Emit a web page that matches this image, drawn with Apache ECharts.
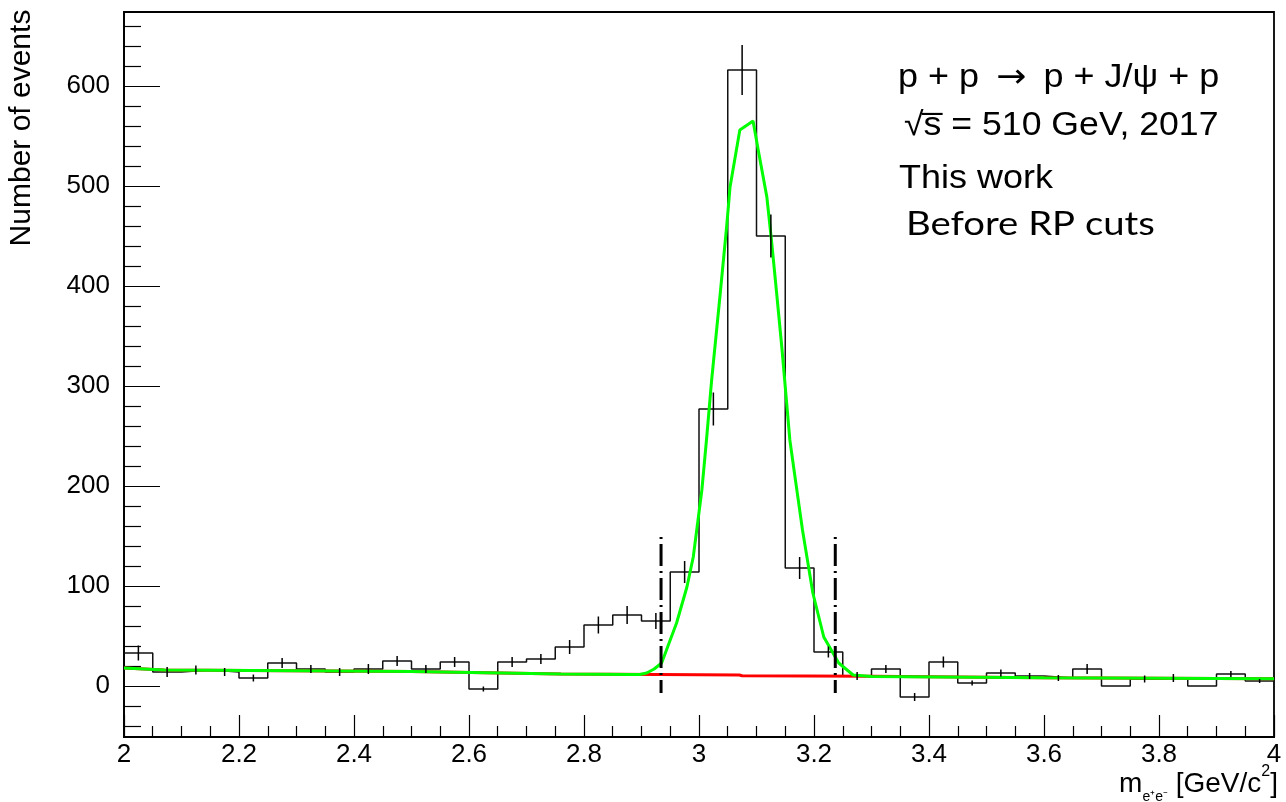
<!DOCTYPE html>
<html><head><meta charset="utf-8">
<script src="https://cdn.jsdelivr.net/npm/echarts@6/dist/echarts.min.js"></script>
<style>html,body{margin:0;padding:0;background:#fff;} #c{width:1286px;height:802px;}</style>
</head><body><div id="c"></div>
<script>
// ---- data ----
const binStart = 2.0;
const binWidth = 0.05;
const counts = [33, 14, 16, 14, 8, 23, 17, 14, 17, 25,
                17, 24, -3, 24, 27, 39, 61, 71, 65, 114,
                277, 616, 450, 118, 34, 10, 17, -11, 24, 3,
                13, 10, 8, 17, 0, 7, 8, 0, 12, 5];
const errors = [7.5, 5, 4.5, 4, 3.5, 5, 4, 4, 5, 5,
                4, 5, 2.5, 5, 5, 7, 8.5, 9, 8, 11,
                16.5, 25, 21.5, 11, 5.5, 4, 4, 4, 5.5, 2.5,
                3.5, 3, 3, 5, 0, 3.5, 4, 0, 3, 2];
const fitTotal = [[2.000,18],[2.070,16],[2.300,15.3],[2.500,14.5],[2.760,12],[2.880,11.5],[2.897,11.5],
  [2.909,13],[2.922,17],[2.935,23],[2.961,63],[2.979,99],[2.990,129],[3.005,196],[3.013,246],
  [3.022,306],[3.037,393],[3.048,459],[3.054,499],[3.071,556],[3.094,565],[3.103,536],[3.118,489],
  [3.126,446],[3.135,393],[3.144,339],[3.152,286],[3.158,246],[3.166,213],[3.180,156],[3.198,93],
  [3.217,49],[3.243,23],[3.268,11],[3.300,9.5],[3.600,8.3],[4.000,7.2]];
const fitBackground = [[2.000,18],[2.070,16],[2.500,14.5],[2.760,12],[2.930,11.5],[3.070,11],
  [3.075,10.2],[3.300,9.7],[3.600,8.3],[4.000,7.2]];
const cutPositions = [2.934, 3.237];
const cutRange = [-7, 149];
const yTitle = 'Number of events';
const xTitle = '{m|m}{s|e\u207ae\u207b} [GeV/c{p|2}]';
const annotations = ['{a|p + p\u2009 }{r|\u2192}{a|\u2009 p + J/\u03c8 + p}', '\u221as\u0305 = 510 GeV, 2017', 'This work', 'Before RP cuts'];

// ---- build series data ----
const stepData = counts.map((v, i) => [binStart + i * binWidth, v]);
stepData.push([binStart + counts.length * binWidth, counts[counts.length - 1]]);
const errData = counts.map((v, i) => [binStart + (i + 0.5) * binWidth, v, errors[i]]);
const cutData = cutPositions.map(x => [x, cutRange[0], cutRange[1]]);

const FONT = '"Liberation Sans", Arial, Helvetica, sans-serif';
const chart = echarts.init(document.getElementById('c'), null, {renderer: 'canvas'});
const option = {
  animation: false,
  backgroundColor: '#fff',
  grid: {left: 124, right: 12, top: 12, bottom: 65, show: true, borderColor: '#000', borderWidth: 1.8, backgroundColor: 'transparent'},
  xAxis: {
    type: 'value', min: 2, max: 4, interval: 0.2,
    axisLine: {show: true, onZero: false, lineStyle: {color: '#000', width: 1.8}},
    axisTick: {show: true, inside: true, length: 22, lineStyle: {color: '#000', width: 1.2}},
    minorTick: {show: true, splitNumber: 4, length: 11, lineStyle: {color: '#000', width: 1.2}},
    axisLabel: {color: '#000', fontSize: 26, fontFamily: FONT, margin: 5},
    splitLine: {show: false}, minorSplitLine: {show: false}
  },
  yAxis: {
    type: 'value', min: -51, max: 674, minInterval: 100, maxInterval: 100, splitNumber: 7,
    axisLine: {show: true, onZero: false, lineStyle: {color: '#000', width: 1.8}},
    axisTick: {show: true, inside: true, length: 36, lineStyle: {color: '#000', width: 1.2}},
    minorTick: {show: true, splitNumber: 5, length: 17, lineStyle: {color: '#000', width: 1.2}},
    axisLabel: {color: '#000', fontSize: 26, fontFamily: FONT, margin: 14, showMinLabel: false, showMaxLabel: false},
    splitLine: {show: false}, minorSplitLine: {show: false}
  },
  series: [
    {type: 'line', name: 'hist', data: stepData, step: 'end', symbol: 'none', z: 2,
     lineStyle: {color: '#111', width: 1.5}, silent: true},
    {type: 'line', name: 'bkg', data: fitBackground, symbol: 'none', z: 3,
     lineStyle: {color: '#ff0000', width: 3}, silent: true},
    {type: 'line', name: 'fit', data: fitTotal, symbol: 'none', z: 4,
     lineStyle: {color: '#00ff00', width: 3}, silent: true},
    {type: 'custom', name: 'err', data: errData, z: 5, silent: true,
     encode: {x: 0, y: 1},
     renderItem: function (params, api) {
       const x = api.value(0), v = api.value(1), e = api.value(2);
       if (!(e > 0)) return null;
       const p1 = api.coord([x, v - e]), p2 = api.coord([x, v + e]);
       return {type: 'line', shape: {x1: p1[0], y1: p1[1], x2: p2[0], y2: p2[1]},
               style: {stroke: '#000', lineWidth: 1.5}};
     }},
    {type: 'custom', name: 'cuts', data: cutData, z: 6, silent: true,
     encode: {x: 0, y: [1, 2]},
     renderItem: function (params, api) {
       const x = api.value(0);
       const pTop = api.coord([x, api.value(2)]), pBot = api.coord([x, api.value(1)]);
       return {type: 'line', shape: {x1: pTop[0], y1: pTop[1], x2: pBot[0], y2: pBot[1]},
               style: {stroke: '#000', lineWidth: 3, lineDash: [2, 5, 22, 5]}};
     }}
  ],
  graphic: [
    {type: 'text', x: 22, y: 128, rotation: Math.PI / 2,
     style: {text: yTitle, font: '30px ' + FONT, fill: '#000', align: 'center', verticalAlign: 'middle'}},
    {type: 'text', right: 8, top: 764,
     style: {text: xTitle, font: '28px ' + FONT, fill: '#000',
       rich: {
         m: {fontSize: 28, fontFamily: FONT, lineHeight: 40, verticalAlign: 'middle'},
         s: {fontSize: 14, fontFamily: FONT, lineHeight: 40, verticalAlign: 'bottom'},
         p: {fontSize: 16, fontFamily: FONT, lineHeight: 40, verticalAlign: 'top'}
       }}},
    {type: 'text', x: 898, y: 78, scaleX: 1.09,
     style: {text: annotations[0], font: '33px ' + FONT, fill: '#000', verticalAlign: 'middle',
       rich: {a: {fontSize: 33, fontFamily: FONT}, r: {fontSize: 33, fontFamily: '"DejaVu Sans"'}}}},
    {type: 'text', x: 904, y: 126, scaleX: 1.08, style: {text: annotations[1], font: '33px ' + FONT, fill: '#000', verticalAlign: 'middle'}},
    {type: 'text', x: 899, y: 179, scaleX: 1.09, style: {text: annotations[2], font: '33px ' + FONT, fill: '#000', verticalAlign: 'middle'}},
    {type: 'text', x: 906, y: 224, scaleX: 1.16, style: {text: annotations[3], font: '33px Lato, "Open Sans", sans-serif', fill: '#000', verticalAlign: 'middle'}}
  ]
};
chart.setOption(option);
</script></body></html>
